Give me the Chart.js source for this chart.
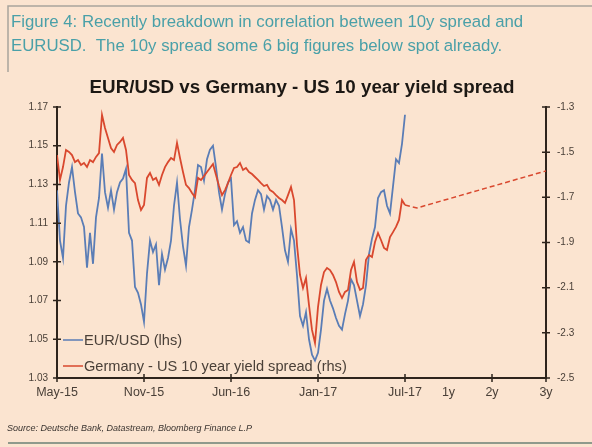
<!DOCTYPE html>
<html>
<head>
<meta charset="utf-8">
<script src="https://cdn.jsdelivr.net/npm/chart.js@4/dist/chart.umd.min.js"></script>
<style>
  html, body { margin: 0; padding: 0; background: #fbe4d0; }
  #wrap { width: 592px; height: 447px; }
</style>
</head>
<body>
<div id="wrap"><canvas id="chart" width="592" height="447"></canvas></div>
<script>
// ─── Data (weekly-ish samples) ────────────────────────────────────────────────

const CAPTION = [
  "Figure 4: Recently breakdown in correlation between 10y spread and",
  "EURUSD.  The 10y spread some 6 big figures below spot already.",
];
const TITLE = "EUR/USD vs Germany - US 10 year yield spread";
const SOURCE = "Source: Deutsche Bank, Datastream, Bloomberg Finance L.P";

const xTickPos = [0, 29, 58, 87, 116, 130.5, 145, 163];
const xTickLabels = ["May-15", "Nov-15", "Jun-16", "Jan-17", "Jul-17", "1y", "2y", "3y"];

// EUR/USD (lhs)
const eurusd = [
  1.127, 1.101, 1.092, 1.119, 1.131, 1.139, 1.126, 1.115, 1.113, 1.108,
  1.087, 1.105, 1.089, 1.113, 1.123, 1.146, 1.126, 1.118, 1.127, 1.117,
  1.126, 1.131, 1.133, 1.138, 1.105, 1.101, 1.077, 1.074, 1.068, 1.059,
  1.084, 1.101, 1.095, 1.099, 1.078, 1.094, 1.086, 1.092, 1.101, 1.119,
  1.131, 1.112, 1.098, 1.088, 1.108, 1.117, 1.127, 1.140, 1.139, 1.132,
  1.143, 1.148, 1.150, 1.139, 1.126, 1.117, 1.125, 1.131, 1.133, 1.109,
  1.111, 1.105, 1.108, 1.101, 1.100, 1.115, 1.122, 1.127, 1.125, 1.117,
  1.124, 1.122, 1.117, 1.122, 1.119, 1.108, 1.096, 1.090, 1.107, 1.101,
  1.083, 1.062, 1.057, 1.064, 1.050, 1.042, 1.039, 1.043, 1.055, 1.070,
  1.076, 1.070, 1.066, 1.061, 1.057, 1.055, 1.063, 1.070, 1.081, 1.078,
  1.070, 1.062, 1.068, 1.078, 1.094, 1.102, 1.108, 1.123, 1.126, 1.127,
  1.119, 1.115, 1.129, 1.143, 1.141, 1.151, 1.166,
];

// Germany - US 10y spread (rhs)
const spread = [
  -1.513, -1.623, -1.566, -1.490, -1.499, -1.513, -1.544, -1.535, -1.557, -1.548,
  -1.566, -1.535, -1.544, -1.521, -1.504, -1.335, -1.393, -1.437, -1.482, -1.499,
  -1.468, -1.455, -1.437, -1.490, -1.601, -1.623, -1.637, -1.712, -1.756, -1.734,
  -1.614, -1.592, -1.623, -1.614, -1.645, -1.601, -1.566, -1.544, -1.526, -1.535,
  -1.459, -1.526, -1.588, -1.645, -1.659, -1.681, -1.699, -1.614, -1.623, -1.606,
  -1.588, -1.570, -1.552, -1.601, -1.650, -1.690, -1.668, -1.637, -1.601, -1.570,
  -1.566, -1.548, -1.579, -1.570, -1.588, -1.597, -1.610, -1.623, -1.637, -1.650,
  -1.645, -1.668, -1.676, -1.690, -1.703, -1.712, -1.725, -1.690, -1.654, -1.712,
  -1.911, -2.044, -2.101, -2.057, -2.177, -2.287, -2.345, -2.186, -2.088, -2.031,
  -2.013, -2.022, -2.044, -2.075, -2.119, -2.146, -2.119, -2.110, -2.022, -1.986,
  -2.075, -2.110, -2.101, -1.977, -1.955, -1.964, -1.898, -1.858, -1.889, -1.924,
  -1.933, -1.876, -1.854, -1.831, -1.800, -1.712, -1.734,
];

// dashed projection of the spread
const forecastX = [116, 120, 163];
const forecastY = [-1.734, -1.747, -1.583];

// ─── Styles ───────────────────────────────────────────────────────────────────

const BG = "#fbe4d0";
const AXIS = "#2e241c";
const TEXT = "#4a4038";
const BLUE = "#5a7db6";
const RED = "#d9482e";
const FONT = "'Liberation Sans', Arial, sans-serif";

const toPoints = (arr) => arr.map((v, i) => ({ x: i, y: v }));

// ─── Plugin: page texts, legend, crossing tick marks ──────────────────────────

const decor = {
  id: "decor",
  beforeDraw(chart) {
    const ctx = chart.ctx;
    ctx.save();
    ctx.fillStyle = BG;
    ctx.fillRect(0, 0, chart.width, chart.height);
    ctx.restore();
  },
  afterDraw(chart) {
    const ctx = chart.ctx;
    const area = chart.chartArea;
    ctx.save();

    // caption box
    ctx.strokeStyle = "#a9a49c";
    ctx.lineWidth = 1.5;
    ctx.beginPath();
    ctx.moveTo(8, 72);
    ctx.lineTo(8, 6);
    ctx.lineTo(592, 6);
    ctx.stroke();

    ctx.fillStyle = "#4aa0a8";
    ctx.font = "16.8px " + FONT;
    ctx.textBaseline = "middle";
    ctx.textAlign = "left";
    ctx.fillText(CAPTION[0], 11, 22);
    ctx.fillText(CAPTION[1], 11, 46);

    // title
    ctx.fillStyle = "#1c1814";
    ctx.font = "bold 18.8px " + FONT;
    ctx.textAlign = "center";
    ctx.fillText(TITLE, 302, 88);

    // source + rule
    ctx.fillStyle = "#3a3430";
    ctx.font = "italic 9px " + FONT;
    ctx.textAlign = "left";
    ctx.fillText(SOURCE, 7, 428);
    ctx.strokeStyle = "#8f9a8c";
    ctx.lineWidth = 2;
    ctx.beginPath();
    ctx.moveTo(8, 443);
    ctx.lineTo(592, 443);
    ctx.stroke();

    // legend inside plot
    const items = chart.data.datasets.slice(0, 2);
    items.forEach((ds, i) => {
      const y = area.bottom - 38 + i * 26;
      ctx.strokeStyle = ds.borderColor;
      ctx.lineWidth = 1.5;
      ctx.beginPath();
      ctx.moveTo(area.left + 6, y);
      ctx.lineTo(area.left + 26, y);
      ctx.stroke();
      ctx.fillStyle = TEXT;
      ctx.font = "14.6px " + FONT;
      ctx.textAlign = "left";
      ctx.fillText(ds.label, area.left + 27, y + 1);
    });

    // tick marks crossing the axes
    ctx.strokeStyle = AXIS;
    ctx.lineWidth = 1.5;
    const yl = chart.scales.y;
    const yr = chart.scales.y2;
    const xs = chart.scales.x;
    ctx.beginPath();
    yl.ticks.forEach((t) => {
      const p = yl.getPixelForValue(t.value);
      ctx.moveTo(area.left - 4, p);
      ctx.lineTo(area.left + 4, p);
    });
    yr.ticks.forEach((t) => {
      const p = yr.getPixelForValue(t.value);
      ctx.moveTo(area.right - 4, p);
      ctx.lineTo(area.right + 4, p);
    });
    xs.ticks.forEach((t, i) => {
      if (xTickLabels[i] === "1y") return;
      const p = xs.getPixelForValue(t.value);
      ctx.moveTo(p, area.bottom - 4);
      ctx.lineTo(p, area.bottom + 4);
    });
    ctx.stroke();
    ctx.restore();
  },
};

// ─── Chart ────────────────────────────────────────────────────────────────────

new Chart(document.getElementById("chart"), {
  type: "line",
  data: {
    datasets: [
      {
        label: "EUR/USD (lhs)",
        data: toPoints(eurusd),
        yAxisID: "y",
        borderColor: BLUE,
        borderWidth: 1.8,
        pointRadius: 0,
        order: 2,
      },
      {
        label: "Germany - US 10 year yield spread (rhs)",
        data: toPoints(spread),
        yAxisID: "y2",
        borderColor: RED,
        borderWidth: 1.8,
        pointRadius: 0,
        order: 1,
      },
      {
        label: "forecast",
        data: forecastX.map((x, i) => ({ x, y: forecastY[i] })),
        yAxisID: "y2",
        borderColor: RED,
        borderWidth: 1.5,
        borderDash: [5, 3],
        pointRadius: 0,
      },
    ],
  },
  options: {
    responsive: false,
    animation: false,
    devicePixelRatio: 1,
    layout: { padding: { top: 107, bottom: 39, left: 0, right: 0 } },
    plugins: { legend: { display: false }, tooltip: { enabled: false } },
    scales: {
      x: {
        type: "linear",
        min: 0,
        max: 163,
        afterBuildTicks: (s) => { s.ticks = xTickPos.map((v) => ({ value: v })); },
        afterFit: (s) => { s.height = 30; },
        grid: { display: false, drawTicks: false },
        border: { color: AXIS, width: 2 },
        ticks: {
          autoSkip: false,
          maxRotation: 0,
          padding: 7,
          color: TEXT,
          font: { family: FONT, size: 12.5 },
          callback: (v, i) => xTickLabels[i],
        },
      },
      y: {
        position: "left",
        min: 1.03,
        max: 1.17,
        afterFit: (s) => { s.width = 57; },
        grid: { display: false, drawTicks: false },
        border: { color: AXIS, width: 2 },
        ticks: {
          stepSize: 0.02,
          padding: 9,
          color: TEXT,
          font: { family: FONT, size: 10 },
          callback: (v) => v.toFixed(2),
        },
      },
      y2: {
        position: "right",
        min: -2.5,
        max: -1.3,
        afterFit: (s) => { s.width = 46; },
        grid: { display: false, drawTicks: false },
        border: { color: AXIS, width: 2 },
        ticks: {
          stepSize: 0.2,
          padding: 11,
          color: TEXT,
          font: { family: FONT, size: 10 },
          callback: (v) => v.toFixed(1),
        },
      },
    },
  },
  plugins: [decor],
});
</script>
</body>
</html>
